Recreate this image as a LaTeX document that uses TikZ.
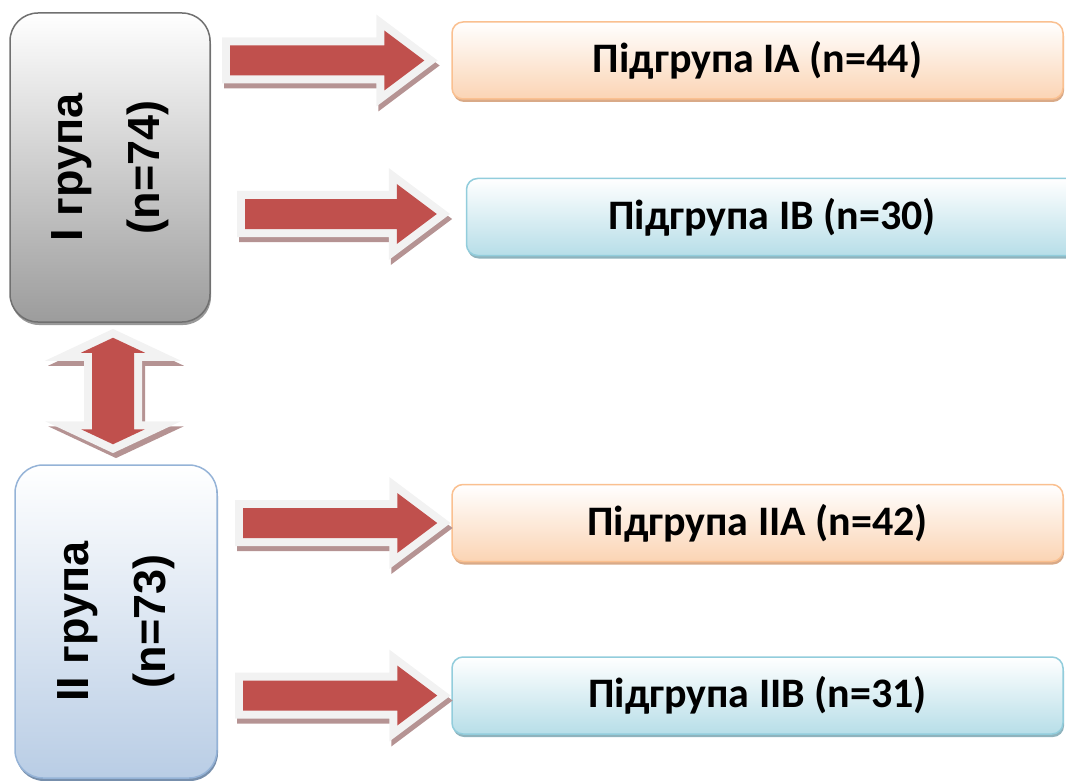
\documentclass[tikz,border=0pt]{standalone}
\usepackage{fontspec}
\setmainfont{Carlito}
\newfontfamily\grpfont{Liberation Sans}
\usetikzlibrary{calc, positioning, shadows}

\definecolor{arrowred}{HTML}{C0504D}
\definecolor{rimgray}{HTML}{F2F2F2}
\definecolor{rimshade}{HTML}{B59393}
\definecolor{grpIline}{HTML}{707070}
\definecolor{grpIfill}{HTML}{9C9C9C}
\definecolor{grpIIline}{HTML}{95B3D7}
\definecolor{grpIIfill}{HTML}{B9CDE5}
\definecolor{peachline}{HTML}{FAC090}
\definecolor{peachfill}{HTML}{FBD4B4}
\definecolor{peachshade}{HTML}{D9AA88}
\definecolor{aqualine}{HTML}{92CDDC}
\definecolor{aquafill}{HTML}{B7DEE8}
\definecolor{aquashade}{HTML}{8FB3BD}

\tikzset{
  grpbox/.style={rounded corners=28pt, line width=1.5pt},
  grptext/.style={rotate=90, align=center,
    font=\grpfont\bfseries\fontsize{45}{77}\selectfont},
  subbox/.style={rounded corners=11pt, line width=1.5pt,
    minimum width=611pt, minimum height=77pt,
    font=\bfseries\fontsize{42}{50}\selectfont},
  peach/.style={subbox, draw=peachline, top color=white, bottom color=peachfill,
    drop shadow={shadow xshift=1pt, shadow yshift=-3pt, fill=peachshade, opacity=1}},
  aqua/.style={subbox, draw=aqualine, top color=white, bottom color=aquafill,
    drop shadow={shadow xshift=1pt, shadow yshift=-3pt, fill=aquashade, opacity=1}},
  arrow shade/.style={draw=rimshade, fill=rimshade, line width=16pt, line join=miter},
  arrow rim/.style={draw=rimgray, fill=rimgray, line width=16pt, line join=miter},
  arrow core/.style={fill=arrowred},
}

% block arrow outline, needs \x1 (tail), \x2,\y2 (tip), \n1 (head base)
\def\arrowshape{(\x1,\y2+15pt) -- (\n1,\y2+15pt) -- (\n1,\y2+30pt) -- (\x2,\y2)
  -- (\n1,\y2-30pt) -- (\n1,\y2-15pt) -- (\x1,\y2-15pt) -- cycle}
\newcommand\fatarrow[2]{%
  \filldraw[arrow shade, transform canvas={shift={(2pt,-5pt)}}]
    let \p1=#1, \p2=#2, \n1={\x2-40pt} in \arrowshape;
  \filldraw[arrow rim] let \p1=#1, \p2=#2, \n1={\x2-40pt} in \arrowshape;
  \fill[arrow core] let \p1=#1, \p2=#2, \n1={\x2-40pt} in \arrowshape;
}

% two-headed vertical arrow, \n1 = axis, \n2 = top tip, \n3 = bottom tip
\def\dblshape{(\n1,\n2) -- (\n1+32pt,\n2-15pt) -- (\n1+21pt,\n2-15pt)
  -- (\n1+21pt,\n3+15pt) -- (\n1+32pt,\n3+15pt) -- (\n1,\n3)
  -- (\n1-32pt,\n3+15pt) -- (\n1-21pt,\n3+15pt) -- (\n1-21pt,\n2-15pt)
  -- (\n1-32pt,\n2-15pt) -- cycle}

\begin{document}
\begin{tikzpicture}[x=1pt, y=-1pt]
  \useasboundingbox (0,0) rectangle (1066,781);
  \clip (0,0) rectangle (1066,781);

  % main groups
  \node[grpbox, draw=grpIline, top color=white, bottom color=grpIfill,
    minimum width=200pt, minimum height=309pt,
    drop shadow={shadow xshift=1pt, shadow yshift=-3pt, fill=black!40, opacity=1},
    label={[grptext]center:I група\\(n=74)}] (grpI) at (110,167.5) {};
  \node[grpbox, draw=grpIIline, top color=white, bottom color=grpIIfill,
    minimum width=202pt, minimum height=313pt,
    drop shadow={shadow xshift=1pt, shadow yshift=-3pt, fill=grpIIline!80!black, opacity=1},
    label={[grptext]center:II група\\(n=73)}] (grpII) at (116,621.5) {};

  % subgroups
  \node[peach] (subIA) at (757.5,60.5) {Підгрупа IA (n=44)};
  \node[aqua] (subIB) at (772,217) {Підгрупа IB (n=30)};
  \node[peach] (subIIA) at (757.5,523) {Підгрупа IIA (n=42)};
  \node[aqua] (subIIB) at (757.5,695.5) {Підгрупа IIB (n=31)};

  % arrow tails
  \coordinate (tIA) at (230,60);
  \coordinate (tIB) at (245,214);
  \coordinate (tIIA) at (243,522);
  \coordinate (tIIB) at (243,694);

  \fatarrow{(tIA)}{([xshift=-27pt]subIA.west)}
  \fatarrow{(tIB)}{([shift={(-29pt,3pt)}]subIB.west)}
  \fatarrow{(tIIA)}{([xshift=-14pt]subIIA.west)}
  \fatarrow{(tIIB)}{([xshift=-14pt]subIIB.west)}

  % link between the two groups
  \filldraw[arrow shade, transform canvas={shift={(3pt,-5pt)}}]
    let \p1=(grpI.south), \p2=(grpII.north), \n1={(\x1+\x2)/2},
        \n2={\y1-15pt}, \n3={\y2+20pt} in \dblshape;
  \filldraw[arrow rim]
    let \p1=(grpI.south), \p2=(grpII.north), \n1={(\x1+\x2)/2},
        \n2={\y1-15pt}, \n3={\y2+20pt} in \dblshape;
  \fill[arrow core]
    let \p1=(grpI.south), \p2=(grpII.north), \n1={(\x1+\x2)/2},
        \n2={\y1-15pt}, \n3={\y2+20pt} in \dblshape;
\end{tikzpicture}
\end{document}
